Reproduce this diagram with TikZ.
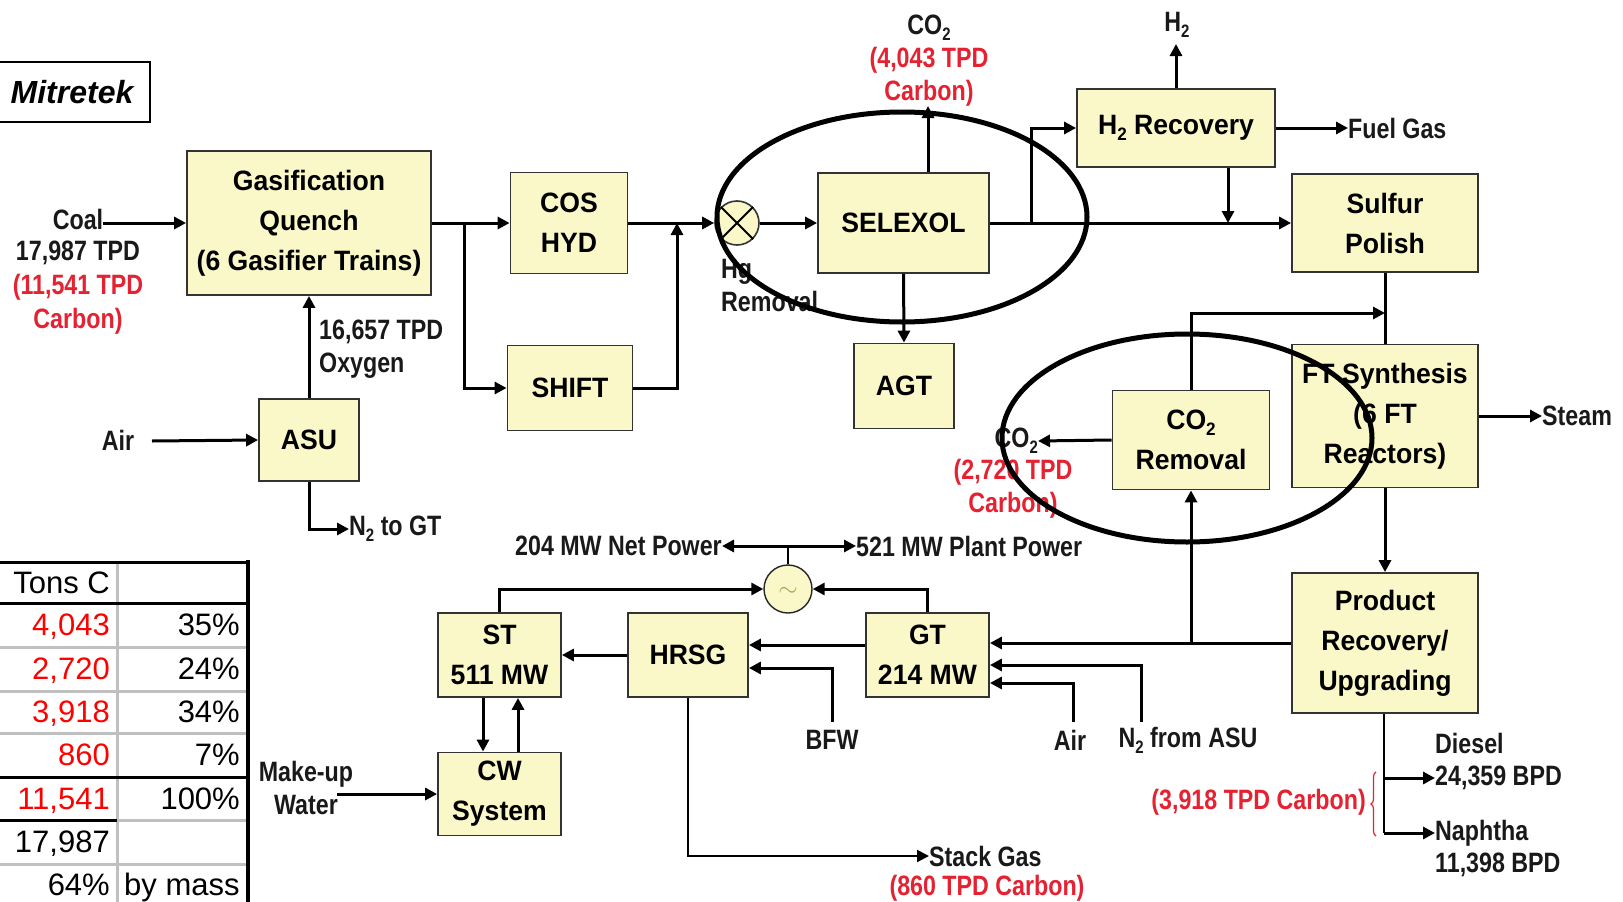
\documentclass[tikz,border=0pt]{standalone}
\usepackage{fontspec}
\setmainfont{Liberation Sans}
\newfontfamily\boxfamily[FakeStretch=0.95]{Liberation Sans}
\newfontfamily\lblfamily[FakeStretch=0.83]{Liberation Sans}
\usetikzlibrary{arrows.meta,decorations.pathreplacing}
\definecolor{boxfill}{RGB}{250,248,200}
\definecolor{dred}{RGB}{228,34,50}
\definecolor{tred}{RGB}{255,0,0}
\definecolor{tgray}{RGB}{192,192,192}
\definecolor{gsym}{RGB}{170,160,90}
\newcommand\subtwo{\raisebox{-0.4ex}{\fontsize{18}{18}\selectfont 2}}
\begin{document}
\begin{tikzpicture}[x=1pt,y=-1pt,
  box/.style={draw=black!80, line width=1.8pt, fill=boxfill, inner sep=0pt, align=center,
    font=\boxfamily\bfseries\fontsize{28}{40}\selectfont},
  lbl/.style={inner sep=0pt, align=center, font=\lblfamily\bfseries\fontsize{28}{33}\selectfont, text=black!90},
  rlbl/.style={lbl, text=dred},
  flow/.style={line width=3pt, -{Triangle[length=12pt,width=12pt]}},
  pipe/.style={line width=3pt},
  thinflow/.style={line width=2pt, -{Triangle[length=12pt,width=12pt]}},
  tcell/.style={inner sep=0pt, font=\fontsize{31}{31}\selectfont},
  ring/.style={line width=5pt, black}]
\useasboundingbox (0,0) rectangle (1623,902);
\fill[white] (0,0) rectangle (1623,902);

% ---------- Mitretek box ----------
\draw[line width=2pt] (-2,62) rectangle (150,122);
\node[inner sep=0pt, font=\bfseries\itshape\fontsize{32}{32}\selectfont] (mitre) at (72,92) {Mitretek};

% ---------- boxes ----------
\node[box, minimum width=244pt, minimum height=144pt] (gas) at (309,223) {Gasification\\Quench\\(6 Gasifier Trains)};
\node[box, minimum width=117pt, minimum height=101pt] (cos) at (569,223) {COS\\HYD};
\node[box, minimum width=125pt, minimum height=85pt] (shift) at (570,388) {SHIFT};
\node[box, minimum width=100pt, minimum height=82pt] (asu) at (309,440) {ASU};
\node[box, minimum width=171pt, minimum height=100pt] (selexol) at (903.5,223) {SELEXOL};
\node[box, minimum width=100pt, minimum height=85pt] (agt) at (904,386) {AGT};
\node[box, minimum width=198pt, minimum height=78pt] (h2rec) at (1176,128) {H\subtwo\ Recovery};
\node[box, minimum width=186pt, minimum height=98pt] (sulfur) at (1385,223) {Sulfur\\Polish};
\node[box, minimum width=186pt, minimum height=143pt] (ft) at (1385,416) {FT Synthesis\\(6 FT\\Reactors)};
\node[box, minimum width=157pt, minimum height=99pt] (co2rem) at (1191,440) {CO\subtwo\\Removal};
\node[box, minimum width=186pt, minimum height=140pt] (prod) at (1385,643) {Product\\Recovery/\\Upgrading};
\node[box, minimum width=123pt, minimum height=84pt] (st) at (499.5,655) {ST\\511 MW};
\node[box, minimum width=120pt, minimum height=84pt] (hrsg) at (688,655) {HRSG};
\node[box, minimum width=123pt, minimum height=84pt] (gt) at (927.5,655) {GT\\214 MW};
\node[box, minimum width=123pt, minimum height=83pt] (cw) at (499.5,794) {CW\\System};

% Hg removal and generator
\node[circle, draw=black!80, line width=1.6pt, fill=boxfill, minimum size=44pt, inner sep=0pt] (hg) at (737,223) {};
\draw[line width=2pt] (hg.north east) -- (hg.south west) (hg.north west) -- (hg.south east);
\node[circle, draw=black!85, line width=1.4pt, fill=boxfill, minimum size=48pt, inner sep=0pt] (gen) at (788,589) {};
\node[inner sep=0pt, text=gsym, font=\fontsize{34}{34}\selectfont] (gensym) at (788,592) {$\sim$};

% ---------- labels ----------
\node[lbl] (coal) at (78,219) {Coal};
\node[lbl, font=\lblfamily\bfseries\fontsize{28}{34}\selectfont] (coalinfo) at (78,288) {17,987 TPD\\\textcolor{dred}{(11,541 TPD}\\\textcolor{dred}{Carbon)}};
\node[lbl, align=left, anchor=west] (oxy) at (319,349) {16,657 TPD\\Oxygen};
\node[lbl] (airasu) at (118,440) {Air};
\node[lbl, anchor=west] (n2gt) at (349,529) {N\subtwo\ to GT};
\node[lbl, align=left, anchor=west] (hglbl) at (721,286) {Hg\\Removal};
\node[lbl] (co2top) at (929,61) {CO\subtwo\\\textcolor{dred}{(4,043 TPD}\\\textcolor{dred}{Carbon)}};
\node[lbl] (h2lbl) at (1177,25) {H\subtwo};
\node[lbl, anchor=west] (fuel) at (1348,128) {Fuel Gas};
\node[lbl, anchor=west] (steam) at (1542,416) {Steam};
\node[lbl, anchor=east] (co2l) at (1038,441) {CO\subtwo};
\node[rlbl] (co2lc) at (1013,489) {(2,720 TPD\\Carbon)};
\node[lbl, anchor=east] (netp) at (722,546) {204 MW Net Power};
\node[lbl, anchor=west] (plantp) at (856,546) {521 MW Plant Power};
\node[lbl] (bfw) at (832,740) {BFW};
\node[lbl] (airgt) at (1070,740) {Air};
\node[lbl] (n2asu) at (1188,740) {N\subtwo\ from ASU};
\node[lbl] (mkw) at (306,788) {Make-up\\Water};
\node[lbl, anchor=west] (stack) at (929,856) {Stack Gas};
\node[rlbl] (stackc) at (987,888) {(860 TPD Carbon)};
\node[lbl, anchor=west] (diesel) at (1435,743) {Diesel};
\node[lbl, anchor=west] (dslq) at (1435,778) {24,359 BPD};
\node[lbl, anchor=west] (naph) at (1435,833) {Naphtha};
\node[lbl, anchor=west] (napq) at (1435,865) {11,398 BPD};
\node[rlbl, anchor=east] (prodc) at (1366,802) {(3,918 TPD Carbon)};
\draw[dred, line width=1.2pt, decorate, decoration={brace, amplitude=5pt}] (1376,836) -- (1376,772);

% ---------- coordinates ----------
\coordinate (gb) at (464,223);
\coordinate (mj) at (677,223);
\coordinate (co2tip) at (928,106);
\coordinate (sb) at (1031,223);
\coordinate (h2tip) at (1176,44);
\coordinate (h2j) at (1228,223);
\coordinate (ftj) at (1385,313);
\coordinate (airs) at (152,441);
\coordinate (pj) at (788,546);
\coordinate (gh) at (0,645);
\coordinate (bh) at (0,668);
\coordinate (n2y) at (0,665);
\coordinate (airy) at (0,683);
\coordinate (bfwb) at (832,722);
\coordinate (airb) at (1073,722);
\coordinate (n2b) at (1141,722);
\coordinate (mk) at (337,794);
\coordinate (scd) at (483,0);
\coordinate (scu) at (518,0);
\coordinate (pj1) at (1384,778);
\coordinate (pj2) at (1384,833);

% ---------- connectors ----------
\draw[flow] (coal.east |- gas.west) -- (gas.west);
\draw[flow] (gas.east) -- (cos.west);
\draw[flow] (gb) |- (shift.west);
\draw[flow] (cos.east) -- (hg.west);
\draw[flow] (shift.east) -| (mj);
\draw[flow] (hg.east) -- (selexol.west);
\draw[flow] (co2tip |- selexol.north) -- (co2tip);
\draw[flow] (selexol.south) -- (agt.north);
\draw[flow] (selexol.east) -- (sulfur.west);
\draw[flow] (sb) |- (h2rec.west);
\draw[flow] (h2rec.north) -- (h2tip);
\draw[flow] (h2rec.east) -- (fuel.west);
\draw[flow] (h2j |- h2rec.south) -- (h2j);
\draw[pipe] (sulfur.south) -- (ft.north);
\draw[flow] (co2rem.north) |- (ftj);
\draw[flow] (co2rem.west) -- (co2l.east);
\draw[flow] (ft.east) -- (steam.west);
\draw[flow] (ft.south) -- (prod.north);
\draw[flow] (prod.west) -- (gt.east |- prod.west);
\draw[flow] (co2rem.south |- prod.west) -- (co2rem.south);
\draw[flow] (n2b) |- (gt.east |- n2y);
\draw[flow] (airb) |- (gt.east |- airy);
\draw[flow] (gt.west |- gh) -- (hrsg.east |- gh);
\draw[flow] (bfwb) |- (hrsg.east |- bh);
\draw[flow] (hrsg.west) -- (st.east);
\draw[thinflow] (hrsg.south) |- (stack.west);
\draw[flow] (st.north) |- (gen.west);
\draw[flow] (gt.north) |- (gen.east);
\draw[line width=2pt] (gen.north) -- (pj);
\draw[flow] (pj) -- (netp.east);
\draw[flow] (pj) -- (plantp.west);
\draw[flow] (scd |- st.south) -- (scd |- cw.north);
\draw[flow] (scu |- cw.north) -- (scu |- st.south);
\draw[flow] (mk) -- (cw.west);
\draw[flow] (airs) -- (asu.west);
\draw[flow] (asu.north) -- (gas.south);
\draw[flow] (asu.south) |- (n2gt.west);
\draw[line width=2pt] (prod.south -| pj1) -- (pj2);
\draw[flow] (pj1) -- (dslq.west);
\draw[flow] (pj2) -- (naph.west);

% ---------- table ----------
\draw[tgray, line width=3pt] (117,562) -- (117,902);
\draw[tgray, line width=3pt] (0,647) -- (248,647) (0,691) -- (248,691) (0,733) -- (248,733)
  (117,820) -- (248,820) (0,864) -- (248,864);
\draw[black, line width=3pt] (0,562) -- (250,562) (0,603) -- (248,603) (0,777) -- (248,777) (0,820) -- (117,820);
\draw[black, line width=4pt] (248,560) -- (248,902);
\node[tcell, anchor=base east] (t1a) at (110,593) {Tons C};
\node[tcell, anchor=base east, text=tred] (t2a) at (110,635) {4,043};
\node[tcell, anchor=base east] (t2b) at (240,635) {35\%};
\node[tcell, anchor=base east, text=tred] (t3a) at (110,679) {2,720};
\node[tcell, anchor=base east] (t3b) at (240,679) {24\%};
\node[tcell, anchor=base east, text=tred] (t4a) at (110,722) {3,918};
\node[tcell, anchor=base east] (t4b) at (240,722) {34\%};
\node[tcell, anchor=base east, text=tred] (t5a) at (110,765) {860};
\node[tcell, anchor=base east] (t5b) at (240,765) {7\%};
\node[tcell, anchor=base east, text=tred] (t6a) at (110,809) {11,541};
\node[tcell, anchor=base east] (t6b) at (240,809) {100\%};
\node[tcell, anchor=base east] (t7a) at (110,852) {17,987};
\node[tcell, anchor=base east] (t8a) at (110,895) {64\%};
\node[tcell, anchor=base west] (t8b) at (124,895) {by mass};

% ---------- highlight ellipses ----------
\draw[ring] (902,217) ellipse [x radius=185pt, y radius=105pt];
\draw[ring] (1187,438) ellipse [x radius=185pt, y radius=104pt];
\end{tikzpicture}
\end{document}
